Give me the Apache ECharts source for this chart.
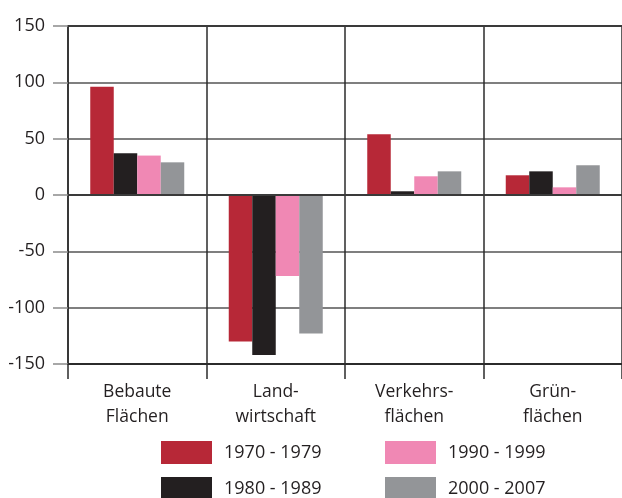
<!DOCTYPE html>
<html>
<head>
<meta charset="utf-8">
<script src="https://cdn.jsdelivr.net/npm/echarts@6/dist/echarts.min.js"></script>
<style>
  html, body { margin: 0; padding: 0; background: #fff; }
  #chart { width: 622px; height: 498px; }
</style>
</head>
<body>
<div id="chart"></div>
<script>
// Land-use change per category and decade
const categories = ['Bebaute\nFlächen', 'Land-\nwirtschaft', 'Verkehrs-\nflächen', 'Grün-\nflächen'];
const periods = ['1970 - 1979', '1980 - 1989', '1990 - 1999', '2000 - 2007'];
const values1970 = [96, -130, 54, 17.5];
const values1980 = [37, -142, 3.3, 21];
const values1990 = [35, -72, 16.6, 6.8];
const values2000 = [29, -123, 21, 26.4];
const yTicks = { min: -150, max: 150, step: 50 };

const colors = ['#B72837', '#231F20', '#F088B4', '#939598'];
const seriesValues = [values1970, values1980, values1990, values2000];
const FONT = '"Open Sans", "Noto Sans", sans-serif';
const TEXT = '#231F20';

const chart = echarts.init(document.getElementById('chart'), null, { renderer: 'canvas' });

const series = periods.map((name, i) => ({
  name,
  type: 'bar',
  data: seriesValues[i],
  barWidth: 23.5,
  barGap: '0%',
  itemStyle: { color: colors[i] },
  z: 2
}));
// zero baseline drawn above the bars
series[0].markLine = {
  silent: true,
  symbol: 'none',
  label: { show: false },
  lineStyle: { color: '#3a3a3a', width: 2, type: 'solid' },
  data: [{ yAxis: 0 }],
  z: 5
};

// legend laid out as a 2 x 2 block: one legend per entry
const legendSlots = [
  { left: 161, top: 441 },
  { left: 161, top: 477 },
  { left: 385, top: 441 },
  { left: 385, top: 477 }
];
const legends = periods.map((name, i) => ({
  left: legendSlots[i].left,
  top: legendSlots[i].top,
  padding: 0,
  itemWidth: 51,
  itemHeight: 23,
  icon: 'rect',
  selectedMode: false,
  textStyle: { fontFamily: FONT, fontSize: 18, color: TEXT, padding: [0, 0, 0, 7] },
  data: [name]
}));

chart.setOption({
  animation: false,
  color: colors,
  legend: legends,
  grid: { left: 68, top: 26, height: 338, right: -2, containLabel: false },
  xAxis: [
    {
      type: 'category',
      data: categories,
      position: 'bottom',
      axisLine: { onZero: false, lineStyle: { color: '#2b2b2b', width: 2 } },
      axisTick: { show: true, length: 15, lineStyle: { color: '#2b2b2b', width: 1.5 } },
      axisLabel: {
        fontFamily: FONT, fontSize: 17.5, color: TEXT, lineHeight: 25, margin: 16, interval: 0
      },
      splitLine: { show: true, lineStyle: { color: '#2b2b2b', width: 1.5 } }
    },
    {
      type: 'category',
      data: categories,
      position: 'top',
      axisLine: { onZero: false, lineStyle: { color: '#3a3a3a', width: 2 } },
      axisTick: { show: false },
      axisLabel: { show: false },
      splitLine: { show: false }
    }
  ],
  yAxis: {
    type: 'value',
    min: yTicks.min,
    max: yTicks.max,
    interval: yTicks.step,
    axisLine: { show: true, lineStyle: { color: '#2b2b2b', width: 1.5 } },
    axisTick: { show: true, length: 15, lineStyle: { color: '#8a8a8a', width: 1.5 } },
    axisLabel: { fontFamily: FONT, fontSize: 18, color: TEXT, margin: 23 },
    splitLine: { show: true, lineStyle: { color: '#555555', width: 1.5 } }
  },
  series
});
</script>
</body>
</html>
